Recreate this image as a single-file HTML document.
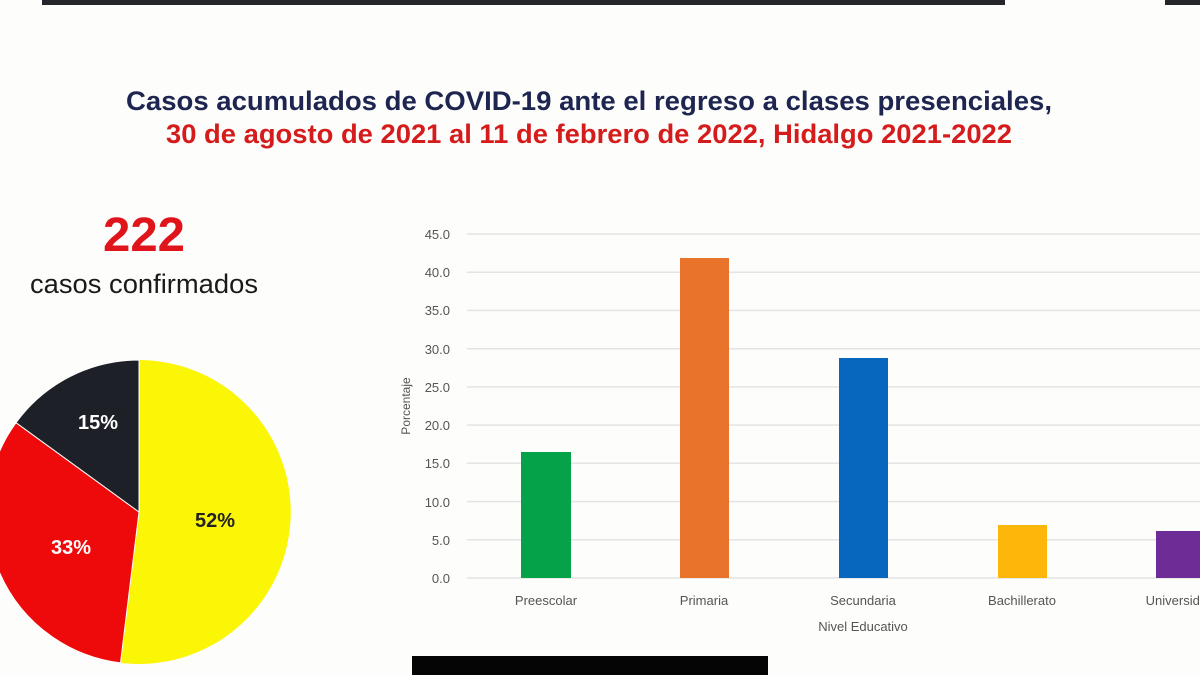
<!DOCTYPE html>
<html><head><meta charset="utf-8"><style>
html,body{margin:0;padding:0;background:#fdfdfb;width:1200px;height:675px;overflow:hidden}
svg{display:block}
</style></head><body>
<svg width="1200" height="675" viewBox="0 0 1200 675" xmlns="http://www.w3.org/2000/svg">
<rect width="1200" height="675" fill="#fdfdfb"/>
<rect x="42" y="0" width="963" height="5" fill="#25262b"/>
<rect x="1165" y="0" width="35" height="5" fill="#25262b"/>
<text x="589" y="110" text-anchor="middle" font-family="Liberation Sans, sans-serif" font-weight="bold" font-size="27" fill="#1d2550" textLength="926" lengthAdjust="spacingAndGlyphs">Casos acumulados de COVID-19 ante el regreso a clases presenciales,</text>
<text x="589" y="143" text-anchor="middle" font-family="Liberation Sans, sans-serif" font-weight="bold" font-size="27" fill="#d51c1c" textLength="846" lengthAdjust="spacingAndGlyphs">30 de agosto de 2021 al 11 de febrero de 2022, Hidalgo 2021-2022</text>
<text x="144" y="251" text-anchor="middle" font-family="Liberation Sans, sans-serif" font-weight="bold" font-size="48" fill="#e0141b" textLength="82" lengthAdjust="spacingAndGlyphs">222</text>
<text x="144" y="293" text-anchor="middle" font-family="Liberation Sans, sans-serif" font-size="27" fill="#1a1a1a" textLength="228" lengthAdjust="spacingAndGlyphs">casos confirmados</text>
<path d="M139,512 L139,360 A152,152 0 1 1 120.5,662.9 Z" fill="#fbf506"/>
<path d="M139,512 L120.5,662.9 A152,152 0 0 1 16,422.7 Z" fill="#ee0a0a" stroke="#fff" stroke-width="1"/>
<path d="M139,512 L16,422.7 A152,152 0 0 1 139,360 Z" fill="#1d2027" stroke="#fff" stroke-width="1"/>
<text x="98" y="429" text-anchor="middle" font-family="Liberation Sans, sans-serif" font-weight="bold" font-size="20" fill="#fff">15%</text>
<text x="71" y="554" text-anchor="middle" font-family="Liberation Sans, sans-serif" font-weight="bold" font-size="20" fill="#fff">33%</text>
<text x="215" y="527" text-anchor="middle" font-family="Liberation Sans, sans-serif" font-weight="bold" font-size="20" fill="#222">52%</text>
<g stroke="#e4e4e4" stroke-width="1.5">
<line x1="467" y1="234" x2="1200" y2="234"/><line x1="467" y1="272.2" x2="1200" y2="272.2"/>
<line x1="467" y1="310.4" x2="1200" y2="310.4"/><line x1="467" y1="348.7" x2="1200" y2="348.7"/>
<line x1="467" y1="386.9" x2="1200" y2="386.9"/><line x1="467" y1="425.1" x2="1200" y2="425.1"/>
<line x1="467" y1="463.3" x2="1200" y2="463.3"/><line x1="467" y1="501.6" x2="1200" y2="501.6"/>
<line x1="467" y1="539.8" x2="1200" y2="539.8"/><line x1="467" y1="578" x2="1200" y2="578"/>
</g>
<g font-family="Liberation Sans, sans-serif" font-size="13" fill="#555" text-anchor="end">
<text x="450" y="239">45.0</text><text x="450" y="277">40.0</text><text x="450" y="315">35.0</text>
<text x="450" y="354">30.0</text><text x="450" y="392">25.0</text><text x="450" y="430">20.0</text>
<text x="450" y="468">15.0</text><text x="450" y="507">10.0</text><text x="450" y="545">5.0</text>
<text x="450" y="583">0.0</text>
</g>
<text transform="translate(410,406) rotate(-90)" text-anchor="middle" font-family="Liberation Sans, sans-serif" font-size="12" fill="#555">Porcentaje</text>
<rect x="521" y="452" width="50" height="126" fill="#06a24a"/>
<rect x="680" y="258" width="49" height="320" fill="#ea732c"/>
<rect x="839" y="358" width="49" height="220" fill="#0766bd"/>
<rect x="998" y="525" width="49" height="53" fill="#fcb70a"/>
<rect x="1156" y="531" width="50" height="47" fill="#6d2c96"/>
<g font-family="Liberation Sans, sans-serif" font-size="13" fill="#555" text-anchor="middle">
<text x="546" y="605">Preescolar</text><text x="704" y="605">Primaria</text>
<text x="863" y="605">Secundaria</text><text x="1022" y="605">Bachillerato</text>
<text x="1180" y="605">Universidad</text>
<text x="863" y="631">Nivel Educativo</text>
</g>
<rect x="412" y="656" width="356" height="19" fill="#050505"/>
</svg>
</body></html>
